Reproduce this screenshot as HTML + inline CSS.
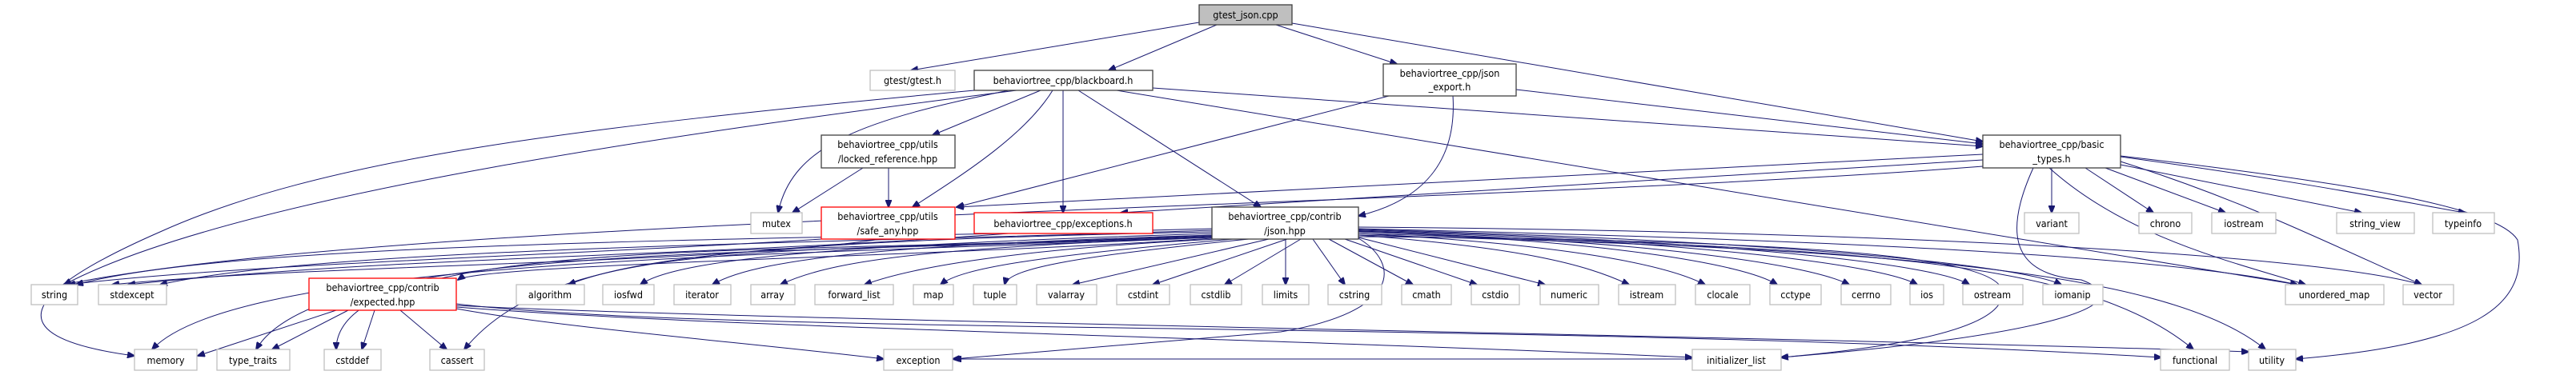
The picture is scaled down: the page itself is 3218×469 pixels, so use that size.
<!DOCTYPE html>
<html><head><meta charset="utf-8"><style>
html,body{margin:0;padding:0;background:#fff;}
svg{display:block;}
text{font-family:"DejaVu Sans Condensed","DejaVu Sans","Liberation Sans",sans-serif;font-size:12.5px;fill:#000;text-anchor:middle;}
.g{fill:#fff;stroke:#bfbfbf;stroke-width:1.3;}
.b{fill:#fff;stroke:#404040;stroke-width:1.3;}
.r{fill:#fff;stroke:#ff0000;stroke-width:1.3;}
path{fill:none;stroke:#191970;stroke-width:1;}
</style></head><body>
<svg width="3218" height="469" viewBox="0 0 3218 469" xmlns="http://www.w3.org/2000/svg">
<defs><marker id="a" markerWidth="10" markerHeight="8" refX="9" refY="4" orient="auto" markerUnits="userSpaceOnUse"><path d="M0,0 L10,4 L0,8 Z" style="fill:#191970;stroke:#191970"/></marker></defs>
<g marker-end="url(#a)">
<!-- gtest_json -->
<path d="M1498,28 L1138,88"/>
<path d="M1520,31 L1385,88"/>
<path d="M1594,31 L1745,80"/>
<path d="M1614,29 L2477,177"/>
<!-- blackboard -->
<path d="M1300,113 L1165,169"/>
<path d="M1315,113 C1280,170 1200,220 1140,259"/>
<path d="M1328,113 L1328,266"/>
<path d="M1347,113 L1575,259"/>
<path d="M1440,110 L2477,183"/>
<path d="M1395,113 L2870,356"/>
<path d="M1260,113 C1080,150 990,180 972,266"/>
<path d="M1270,113 C900,160 300,240 80,356"/>
<path d="M1250,110 C700,160 400,200 200,290 C40,360 -20,420 168,445"/>
<!-- json_export -->
<path d="M1735,120 L1195,259"/>
<path d="M1815,120 C1820,200 1780,250 1697,270"/>
<path d="M1894,112 L2477,180"/>
<!-- locked_ref -->
<path d="M1110,210 L1110,259"/>
<path d="M1078,210 L990,266"/>
<!-- basic_types -->
<path d="M2477,193 L1195,259"/>
<path d="M2477,200 L1400,266"/>
<path d="M2563,210 L2563,266"/>
<path d="M2605,210 L2690,266"/>
<path d="M2630,210 L2780,266"/>
<path d="M2649,206 L2950,266"/>
<path d="M2649,196 C2900,230 3050,262 3080,266"/>
<path d="M2560,210 C2660,300 2800,330 2880,356"/>
<path d="M2649,202 C2800,250 2900,300 3025,356"/>
<path d="M2649,195 C2950,230 3120,260 3145,300 C3160,380 3100,430 2868,449"/>
<path d="M2477,208 C1800,260 500,270 80,356"/>
<path d="M2540,210 C2490,320 2540,345 2600,350 C2680,380 2560,420 2225,447"/>
<!-- safe_any -->
<path d="M1026,299 C700,320 300,330 85,356"/>
<path d="M1100,299 C900,330 400,330 140,356"/>
<!-- exceptions -->
<path d="M1260,292 C900,320 500,320 160,356"/>
<!-- json.hpp -->
<path d="M1514,286 C1000,300 300,300 95,356"/>
<path d="M1514,288 C1000,305 400,310 200,356"/>
<path d="M1514,290 C1000,300 800,320 710,356"/>
<path d="M1514,292 C1100,305 850,320 800,356"/>
<path d="M1514,294 C1150,305 950,320 890,356"/>
<path d="M1514,296 C1200,310 1050,320 975,356"/>
<path d="M1520,299 C1300,310 1150,330 1080,356"/>
<path d="M1540,299 C1300,320 1200,335 1175,356"/>
<path d="M1560,299 C1350,320 1260,335 1255,356"/>
<path d="M1585,299 L1340,356"/>
<path d="M1608,299 L1440,356"/>
<path d="M1625,299 L1530,356"/>
<path d="M1606,299 L1606,356"/>
<path d="M1640,299 L1680,356"/>
<path d="M1660,299 L1765,356"/>
<path d="M1680,299 L1845,356"/>
<path d="M1697,297 L1930,356"/>
<path d="M1697,294 C1900,310 1980,330 2035,356"/>
<path d="M1697,292 C1950,305 2080,330 2130,356"/>
<path d="M1697,290 C2000,300 2180,330 2220,356"/>
<path d="M1697,290 C2050,300 2260,330 2310,356"/>
<path d="M1697,289 C2100,300 2350,330 2395,356"/>
<path d="M1697,288 C2150,300 2420,330 2460,356"/>
<path d="M1697,287 C2200,300 2520,330 2575,356"/>
<path d="M1697,286 C2300,300 2700,320 2870,356"/>
<path d="M1697,284 C2400,290 2900,320 3025,356"/>
<path d="M1697,292 C2300,310 2600,320 2740,437"/>
<path d="M1697,294 C2300,310 2700,330 2830,437"/>
<path d="M1697,296 C2250,300 2480,320 2500,360 C2520,420 2300,440 2225,447"/>
<path d="M1514,298 C1200,320 600,330 572,350"/>
<path d="M1514,297 C1000,320 300,320 190,437"/>
<path d="M1514,296 C1000,320 400,300 320,437"/>
<path d="M1514,295 C1000,320 420,290 420,437"/>
<path d="M1514,294 C1000,320 700,290 580,437"/>
<path d="M1697,298 C1750,330 1750,390 1600,415 C1300,440 1250,445 1190,449"/>
<!-- expected -->
<path d="M420,388 L247,445"/>
<path d="M435,388 L340,437"/>
<path d="M468,388 L452,437"/>
<path d="M500,388 L558,437"/>
<path d="M570,380 C900,420 1900,400 2700,447"/>
<path d="M570,382 C900,400 2200,420 2809,440"/>
<path d="M570,384 C900,410 1500,420 2114,447"/>
<path d="M570,386 C700,410 950,430 1104,449"/>
<path d="M2114,449 L1192,449"/>
</g>
<!-- nodes -->
<rect x="1498" y="6" width="116" height="25" style="fill:#bfbfbf;stroke:#404040;stroke-width:1.3"/><text x="1556" y="23">gtest_json.cpp</text>
<rect class="g" x="1087" y="88" width="106" height="25"/><text x="1140" y="105">gtest/gtest.h</text>
<rect class="b" x="1217" y="88" width="223" height="25"/><text x="1328" y="105">behaviortree_cpp/blackboard.h</text>
<rect class="b" x="1728" y="80" width="166" height="40"/><text x="1811" y="96">behaviortree_cpp/json</text><text x="1811" y="113">_export.h</text>
<rect class="b" x="1026" y="169" width="167" height="41"/><text x="1109" y="185">behaviortree_cpp/utils</text><text x="1109" y="203">/locked_reference.hpp</text>
<rect class="b" x="2477" y="169" width="172" height="41"/><text x="2563" y="185">behaviortree_cpp/basic</text><text x="2563" y="203">_types.h</text>
<rect class="g" x="938" y="266" width="64" height="26"/><text x="970" y="284">mutex</text>
<rect class="r" x="1026" y="259" width="167" height="40"/><text x="1109" y="275">behaviortree_cpp/utils</text><text x="1109" y="293">/safe_any.hpp</text>
<rect class="r" x="1217" y="266" width="223" height="26"/><text x="1328" y="284">behaviortree_cpp/exceptions.h</text>
<rect class="b" x="1514" y="259" width="183" height="40"/><text x="1605" y="275">behaviortree_cpp/contrib</text><text x="1605" y="293">/json.hpp</text>
<rect class="g" x="2529" y="266" width="68" height="26"/><text x="2563" y="284">variant</text>
<rect class="g" x="2672" y="266" width="66" height="26"/><text x="2705" y="284">chrono</text>
<rect class="g" x="2763" y="266" width="80" height="26"/><text x="2803" y="284">iostream</text>
<rect class="g" x="2919" y="266" width="97" height="26"/><text x="2967" y="284">string_view</text>
<rect class="g" x="3039" y="266" width="77" height="26"/><text x="3077" y="284">typeinfo</text>
<rect class="g" x="39" y="356" width="58" height="25"/><text x="68" y="373">string</text>
<rect class="g" x="123" y="356" width="85" height="25"/><text x="165" y="373">stdexcept</text>
<rect class="r" x="386" y="348" width="184" height="40"/><text x="478" y="364">behaviortree_cpp/contrib</text><text x="478" y="382">/expected.hpp</text>
<rect class="g" x="645" y="356" width="85" height="25"/><text x="687" y="373">algorithm</text>
<rect class="g" x="753" y="356" width="64" height="25"/><text x="785" y="373">iosfwd</text>
<rect class="g" x="842" y="356" width="71" height="25"/><text x="877" y="373">iterator</text>
<rect class="g" x="938" y="356" width="55" height="25"/><text x="965" y="373">array</text>
<rect class="g" x="1018" y="356" width="98" height="25"/><text x="1067" y="373">forward_list</text>
<rect class="g" x="1141" y="356" width="50" height="25"/><text x="1166" y="373">map</text>
<rect class="g" x="1216" y="356" width="54" height="25"/><text x="1243" y="373">tuple</text>
<rect class="g" x="1295" y="356" width="75" height="25"/><text x="1332" y="373">valarray</text>
<rect class="g" x="1395" y="356" width="66" height="25"/><text x="1428" y="373">cstdint</text>
<rect class="g" x="1487" y="356" width="64" height="25"/><text x="1519" y="373">cstdlib</text>
<rect class="g" x="1577" y="356" width="58" height="25"/><text x="1606" y="373">limits</text>
<rect class="g" x="1659" y="356" width="67" height="25"/><text x="1692" y="373">cstring</text>
<rect class="g" x="1751" y="356" width="62" height="25"/><text x="1782" y="373">cmath</text>
<rect class="g" x="1838" y="356" width="60" height="25"/><text x="1868" y="373">cstdio</text>
<rect class="g" x="1924" y="356" width="73" height="25"/><text x="1960" y="373">numeric</text>
<rect class="g" x="2022" y="356" width="71" height="25"/><text x="2057" y="373">istream</text>
<rect class="g" x="2118" y="356" width="68" height="25"/><text x="2152" y="373">clocale</text>
<rect class="g" x="2211" y="356" width="64" height="25"/><text x="2243" y="373">cctype</text>
<rect class="g" x="2300" y="356" width="62" height="25"/><text x="2331" y="373">cerrno</text>
<rect class="g" x="2386" y="356" width="42" height="25"/><text x="2407" y="373">ios</text>
<rect class="g" x="2452" y="356" width="75" height="25"/><text x="2489" y="373">ostream</text>
<rect class="g" x="2552" y="356" width="75" height="25"/><text x="2589" y="373">iomanip</text>
<rect class="g" x="2855" y="356" width="123" height="25"/><text x="2916" y="373">unordered_map</text>
<rect class="g" x="3002" y="356" width="63" height="25"/><text x="3033" y="373">vector</text>
<rect class="g" x="168" y="437" width="78" height="26"/><text x="207" y="455">memory</text>
<rect class="g" x="271" y="437" width="91" height="26"/><text x="316" y="455">type_traits</text>
<rect class="g" x="405" y="437" width="71" height="26"/><text x="440" y="455">cstddef</text>
<rect class="g" x="537" y="437" width="68" height="26"/><text x="571" y="455">cassert</text>
<rect class="g" x="1104" y="437" width="86" height="26"/><text x="1147" y="455">exception</text>
<rect class="g" x="2114" y="437" width="111" height="26"/><text x="2169" y="455">initializer_list</text>
<rect class="g" x="2699" y="437" width="86" height="26"/><text x="2742" y="455">functional</text>
<rect class="g" x="2809" y="437" width="59" height="26"/><text x="2838" y="455">utility</text>
</svg>
</body></html>
